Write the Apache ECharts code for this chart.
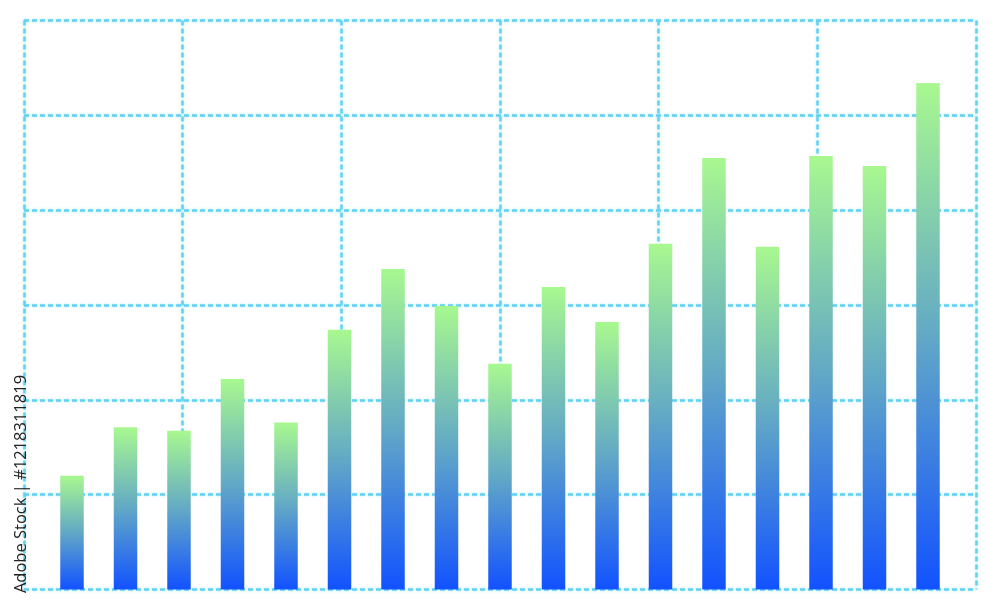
<!DOCTYPE html>
<html>
<head>
<meta charset="utf-8">
<script src="https://cdn.jsdelivr.net/npm/echarts@6/dist/echarts.min.js"></script>
<style>html,body{margin:0;padding:0;background:#fff}#c{width:1000px;height:611px}</style>
</head>
<body>
<div id="c"></div>
<script>
var categories = ['1','2','3','4','5','6','7','8','9','10','11','12','13','14','15','16','17'];
var values = [1.20, 1.71, 1.675, 2.22, 1.76, 2.74, 3.38, 2.99, 2.38, 3.19, 2.82, 3.645, 4.55, 3.615, 4.57, 4.465, 5.34];
var yTicks = [0, 1, 2, 3, 4, 5, 6];

var chart = echarts.init(document.getElementById('c'), null, {renderer: 'canvas'});
var lineStyle = {color: '#62d2f2', width: 2.5, type: [5, 3], shadowBlur: 3, shadowColor: 'rgba(98,210,242,0.5)'};
chart.setOption({
  animation: false,
  backgroundColor: '#ffffff',
  grid: [
    {left: 24, right: 24, top: 20.5, bottom: 21.5},
    {left: 45.25, right: 45.25, top: 20.5, bottom: 21.5}
  ],
  xAxis: [
    {gridIndex: 0, type: 'value', min: 0, max: 6, interval: 1,
     axisLine: {show: false}, axisTick: {show: false}, axisLabel: {show: false},
     splitLine: {show: true, lineStyle: lineStyle}},
    {gridIndex: 1, type: 'category', data: categories,
     axisLine: {show: false}, axisTick: {show: false}, axisLabel: {show: false}, splitLine: {show: false}}
  ],
  yAxis: [
    {gridIndex: 0, type: 'value', min: yTicks[0], max: yTicks[yTicks.length - 1], interval: 1,
     axisLine: {show: false}, axisTick: {show: false}, axisLabel: {show: false},
     splitLine: {show: true, lineStyle: lineStyle}},
    {gridIndex: 1, type: 'value', min: yTicks[0], max: yTicks[yTicks.length - 1], interval: 1,
     axisLine: {show: false}, axisTick: {show: false}, axisLabel: {show: false}, splitLine: {show: false}}
  ],
  series: [{
    type: 'bar',
    xAxisIndex: 1, yAxisIndex: 1,
    data: values,
    barWidth: 23.5,
    z: 1,
    itemStyle: {
      color: new echarts.graphic.LinearGradient(0, 0, 0, 1, [
        {offset: 0, color: '#a8f890'},
        {offset: 0.5, color: '#62a8c6'},
        {offset: 1, color: '#1252ff'}
      ])
    }
  }],
  graphic: [{
    type: 'text',
    x: 21, y: 484,
    rotation: Math.PI / 2,
    style: {
      text: 'Adobe Stock | #1218311819',
      fill: '#222222',
      font: '16.5px "Open Sans", sans-serif',
      align: 'center',
      verticalAlign: 'middle'
    },
    z: 10
  }]
});
</script>
</body>
</html>
